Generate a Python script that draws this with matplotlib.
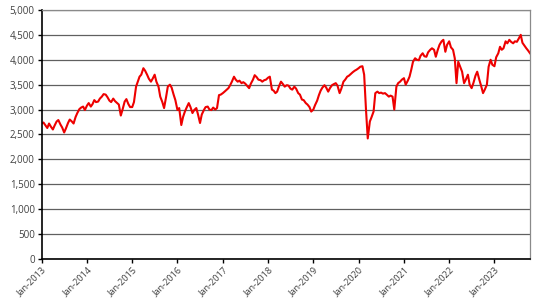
import numpy as np
import pandas as pd
import matplotlib
matplotlib.use("Agg")
import matplotlib.pyplot as plt
import matplotlib.dates as mdates
from matplotlib.ticker import FuncFormatter, MultipleLocator

vals_2013 = [2720, 2740, 2680, 2630, 2720, 2660, 2600, 2680, 2760, 2790, 2700, 2640,
             2540, 2620, 2730, 2800, 2760, 2720, 2850, 2930, 3010, 3040, 3060, 2990]
vals_2014 = [3080, 3130, 3060, 3110, 3190, 3150, 3160, 3220, 3260, 3310, 3300, 3250,
             3180, 3150, 3220, 3170, 3130, 3100, 2880, 3000, 3160, 3210, 3110, 3050]
vals_2015 = [3050, 3150, 3460, 3560, 3660, 3700, 3830, 3780, 3700, 3620, 3560, 3620,
             3700, 3560, 3460, 3260, 3150, 3030, 3250, 3460, 3500, 3440, 3300, 3190]
vals_2016 = [2990, 3030, 2690, 2850, 2960, 3040, 3130, 3050, 2930, 2990, 3030, 2900,
             2730, 2900, 2990, 3050, 3060, 3000, 2990, 3040, 3000, 3030, 3290, 3300]
vals_2017 = [3330, 3360, 3400, 3430, 3490, 3560, 3660, 3600, 3560, 3580, 3530, 3550,
             3520, 3480, 3430, 3520, 3600, 3690, 3650, 3600, 3590, 3560, 3590, 3600]
vals_2018 = [3640, 3660, 3400, 3380, 3330, 3360, 3480, 3560, 3510, 3460, 3490, 3480,
             3420, 3400, 3460, 3420, 3330, 3300, 3200, 3190, 3130, 3100, 3050, 2960]
vals_2019 = [3000, 3090, 3180, 3290, 3380, 3440, 3490, 3440, 3360, 3430, 3490, 3510,
             3530, 3480, 3330, 3420, 3560, 3600, 3660, 3680, 3720, 3750, 3780, 3800]
vals_2020 = [3830, 3860, 3870, 3700, 2990, 2420, 2760, 2850, 2960, 3330, 3360, 3330,
             3340, 3320, 3330, 3300, 3260, 3280, 3260, 3000, 3460, 3530, 3560, 3600]
vals_2021 = [3630, 3500, 3580, 3660, 3800, 3960, 4030, 4000, 3990, 4080, 4130, 4070,
             4060, 4150, 4200, 4230, 4200, 4060, 4200, 4300, 4370, 4400, 4160, 4300]
vals_2022 = [4370, 4250, 4200, 4030, 3530, 3960, 3850, 3760, 3530, 3600, 3700, 3500,
             3430, 3530, 3680, 3760, 3600, 3480, 3330, 3400, 3500, 3860, 4000, 3900]
vals_2023 = [3870, 4050, 4130, 4260, 4200, 4230, 4370, 4330, 4400, 4360, 4330, 4370,
             4360, 4420, 4500, 4340, 4280, 4230, 4180, 4130]

values = (vals_2013 + vals_2014 + vals_2015 + vals_2016 + vals_2017 + vals_2018
          + vals_2019 + vals_2020 + vals_2021 + vals_2022 + vals_2023)
dates = pd.date_range("2013-01-01", periods=len(values), freq="SMS")

tick_years = list(range(2013, 2024))

plt.rcParams['font.family'] = ['Open Sans', 'DejaVu Sans']

fig = plt.figure(figsize=(5.37, 3.01), dpi=100)
ax = fig.add_axes([0.0777, 0.1395, 0.9093, 0.8275])

ax.plot(dates, values, color='#ee0000', lw=1.5)

ax.set_ylim(0, 5000)
ax.set_xlim(pd.Timestamp("2013-01-01"), dates[-1])
ax.yaxis.set_major_locator(MultipleLocator(500))
ax.yaxis.set_major_formatter(FuncFormatter(lambda v, p: f"{int(v):,}"))
ax.grid(axis='y', color='#606060', lw=0.9)
ax.set_axisbelow(True)

ax.set_xticks([pd.Timestamp(f"{y}-01-01") for y in tick_years])
ax.xaxis.set_major_formatter(mdates.DateFormatter("Jan-%Y"))
for lab in ax.get_xticklabels():
    lab.set_rotation(45)
    lab.set_ha('right')
    lab.set_rotation_mode('anchor')

ax.tick_params(axis='both', direction='out', length=3, width=1, colors='black',
               labelcolor='#404040', labelsize=7)
ax.tick_params(axis='y', pad=2)
ax.tick_params(axis='x', labelsize=6.6, pad=1.5)

for s in ['left', 'bottom']:
    ax.spines[s].set_color('black')
    ax.spines[s].set_linewidth(1.2)
for s in ['top', 'right']:
    ax.spines[s].set_color('#8a8a8a')
    ax.spines[s].set_linewidth(0.9)

fig.savefig("out.png", dpi=100)
